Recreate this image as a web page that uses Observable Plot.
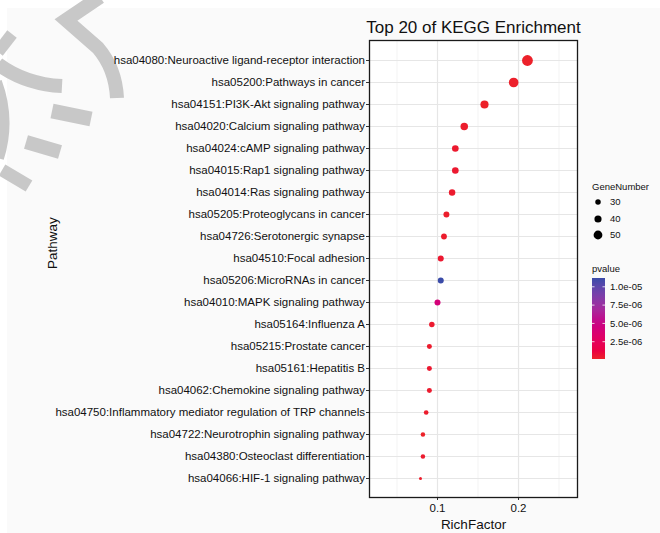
<!DOCTYPE html>
<html>
<head>
<meta charset="utf-8">
<script src="https://cdn.jsdelivr.net/npm/d3@7"></script>
<script src="https://cdn.jsdelivr.net/npm/@observablehq/plot@0.6"></script>
<style>
  html, body { margin: 0; padding: 0; background: #ffffff; }
  #wrap { position: relative; width: 660px; height: 533px; overflow: hidden; background: #ffffff; }
  #bg { position: absolute; left: 7px; top: 8px; width: 653px; height: 525px; background: #fafafa; }
  #deco { position: absolute; left: 0; top: 0; }
  #chart { position: absolute; left: 0; top: 0; }
  #legend { position: absolute; left: 0; top: 0; }
  text { font-family: "Liberation Sans", Arial, sans-serif; }
</style>
</head>
<body>
<div id="wrap">
  <div id="bg"></div>
  <svg id="deco" width="660" height="533"></svg>
  <div id="chart"></div>
  <svg id="legend" width="660" height="533"></svg>
</div>
<script>
// ---------- data ----------
const pathways = [
  "hsa04080:Neuroactive ligand-receptor interaction",
  "hsa05200:Pathways in cancer",
  "hsa04151:PI3K-Akt signaling pathway",
  "hsa04020:Calcium signaling pathway",
  "hsa04024:cAMP signaling pathway",
  "hsa04015:Rap1 signaling pathway",
  "hsa04014:Ras signaling pathway",
  "hsa05205:Proteoglycans in cancer",
  "hsa04726:Serotonergic synapse",
  "hsa04510:Focal adhesion",
  "hsa05206:MicroRNAs in cancer",
  "hsa04010:MAPK signaling pathway",
  "hsa05164:Influenza A",
  "hsa05215:Prostate cancer",
  "hsa05161:Hepatitis B",
  "hsa04062:Chemokine signaling pathway",
  "hsa04750:Inflammatory mediator regulation of TRP channels",
  "hsa04722:Neurotrophin signaling pathway",
  "hsa04380:Osteoclast differentiation",
  "hsa04066:HIF-1 signaling pathway"
];
const richFactor = [0.211, 0.194, 0.158, 0.133, 0.122, 0.122, 0.118, 0.111, 0.108, 0.104,
                    0.104, 0.100, 0.093, 0.090, 0.090, 0.090, 0.086, 0.082, 0.082, 0.079];
const geneNumber = [62, 55, 46, 42, 37, 37, 36, 33, 32, 33,
                    33, 33, 30, 27, 27, 27, 25, 24, 24, 15];
const pvalue = [1.8e-07, 2.2e-07, 1.6e-07, 3.1e-07, 3.8e-07, 4.2e-07, 3.5e-07, 2.6e-07, 2.9e-07, 4.5e-07,
                1.12e-05, 4.2e-06, 3.9e-07, 3.3e-07, 4.4e-07, 3.6e-07, 3.2e-07, 1.4e-07, 3.7e-07, 2.8e-07];

const xTicks = [0.1, 0.2];
const xMinorTicks = [0.05, 0.15, 0.25];
const sizeLegendValues = [30, 40, 50];
const colorLegendValues = [1.0e-05, 7.5e-06, 5.0e-06, 2.5e-06];
const colorLegendLabels = ["1.0e-05", "7.5e-06", "5.0e-06", "2.5e-06"];

const titleText = "Top 20 of KEGG Enrichment";
const xLabel = "RichFactor";
const yLabel = "Pathway";
const sizeTitle = "GeneNumber";
const colorTitle = "pvalue";

const data = pathways.map((p, i) => ({
  pathway: p, rich: richFactor[i], genes: geneNumber[i], p: pvalue[i]
}));

// ---------- chart ----------
const font = "Liberation Sans, Arial, sans-serif";
const pExtent = d3.extent(pvalue);

const plot = Plot.plot({
  width: 660,
  height: 533,
  marginTop: 40,
  marginBottom: 36,
  marginLeft: 369,
  marginRight: 83,
  style: { background: "transparent", fontFamily: font, color: "#111", overflow: "visible" },
  x: { domain: [0.01605, 0.2728], label: null },
  y: { type: "point", domain: pathways, padding: 0.6, label: null },
  r: { type: "linear", domain: [15, 62], range: [1.5, 5.4] },
  color: { type: "linear", domain: pExtent, range: ["#ec2229", "#3a4ba8"], interpolate: "hcl" },
  marks: [
    Plot.frame({ fill: "white", stroke: null }),
    Plot.gridX(xMinorTicks, { stroke: "#eeeeee", strokeOpacity: 1, strokeWidth: 0.7 }),
    Plot.gridX(xTicks, { stroke: "#e6e6e6", strokeOpacity: 1, strokeWidth: 1.2 }),
    Plot.gridY(pathways, { stroke: "#e6e6e6", strokeOpacity: 1, strokeWidth: 1.2 }),
    Plot.dot(data, { x: "rich", y: "pathway", r: "genes", fill: "p", stroke: null }),
    Plot.axisX(xTicks, { tickSize: 3, tickPadding: 3, fontSize: 11.5, tickFormat: d3.format(".1f"), label: null, stroke: "#333" }),
    Plot.axisY({ tickSize: 3, tickPadding: 1.5, fontSize: 11.5, label: null, stroke: "#333" }),
    Plot.frame({ stroke: "#1a1a1a", strokeWidth: 1.3 }),
    Plot.text([titleText], { frameAnchor: "top", lineAnchor: "bottom", dy: -8, fontSize: 17, fill: "#111", text: d => d }),
    Plot.text([xLabel], { frameAnchor: "bottom", lineAnchor: "bottom", dy: 31, fontSize: 13.5, fill: "#111", text: d => d }),
    Plot.text([yLabel], { frameAnchor: "left", rotate: -90, dx: -317, fontSize: 13.5, fill: "#111", text: d => d })
  ]
});
document.getElementById("chart").appendChild(plot);

// ---------- legends (use the plot's own scales) ----------
const rScale = plot.scale("r");
const cScale = plot.scale("color");
const leg = d3.select("#legend");
const lx = 592;

leg.append("text").attr("x", lx).attr("y", 190).attr("font-size", 9.5).attr("fill", "#111").text(sizeTitle);
const sizeY = [202, 219, 235];
sizeLegendValues.forEach((v, i) => {
  leg.append("circle").attr("cx", 598).attr("cy", sizeY[i]).attr("r", rScale.apply(v)).attr("fill", "#000");
  leg.append("text").attr("x", 610).attr("y", sizeY[i]).attr("dy", "0.35em").attr("font-size", 9.5).attr("fill", "#111").text(v);
});

leg.append("text").attr("x", lx).attr("y", 272).attr("font-size", 9.5).attr("fill", "#111").text(colorTitle);
const barTop = 278, barBottom = 359, barX = 592, barW = 13;
const barY = d3.scaleLinear().domain(pExtent).range([barBottom, barTop]);
const grad = leg.append("defs").append("linearGradient").attr("id", "pgrad")
  .attr("x1", 0).attr("y1", 1).attr("x2", 0).attr("y2", 0);
d3.range(0, 1.0001, 0.1).forEach(t => {
  const v = pExtent[0] + t * (pExtent[1] - pExtent[0]);
  grad.append("stop").attr("offset", t).attr("stop-color", cScale.apply(v));
});
leg.append("rect").attr("x", barX).attr("y", barTop).attr("width", barW).attr("height", barBottom - barTop).attr("fill", "url(#pgrad)");
colorLegendValues.forEach((v, i) => {
  const y = barY(v);
  leg.append("line").attr("x1", barX).attr("x2", barX + 2.5).attr("y1", y).attr("y2", y).attr("stroke", "white").attr("stroke-width", 0.8);
  leg.append("line").attr("x1", barX + barW - 2.5).attr("x2", barX + barW).attr("y1", y).attr("y2", y).attr("stroke", "white").attr("stroke-width", 0.8);
  leg.append("text").attr("x", 610).attr("y", y).attr("dy", "0.35em").attr("font-size", 9.5).attr("fill", "#111").text(colorLegendLabels[i]);
});

// ---------- decorative watermark strokes (not data) ----------
const deco = d3.select("#deco");
const decoPaths = [
  ["M 100 -3 L 66 20 L 98 48 C 110 62 116 78 117 98", 14],
  ["M -2 64 Q 25 84 62 86", 14],
  ["M 12 34 L -2 52", 12],
  ["M -4 82 Q 10 120 -2 158", 12],
  ["M 52 111 L 91 119", 15],
  ["M 26 142 L 60 152", 14],
  ["M 2 170 L 29 186", 13]
];
decoPaths.forEach(([d, w]) => {
  deco.append("path").attr("d", d).attr("fill", "none").attr("stroke", "#c8c8c8").attr("stroke-width", w);
});
</script>
</body>
</html>
